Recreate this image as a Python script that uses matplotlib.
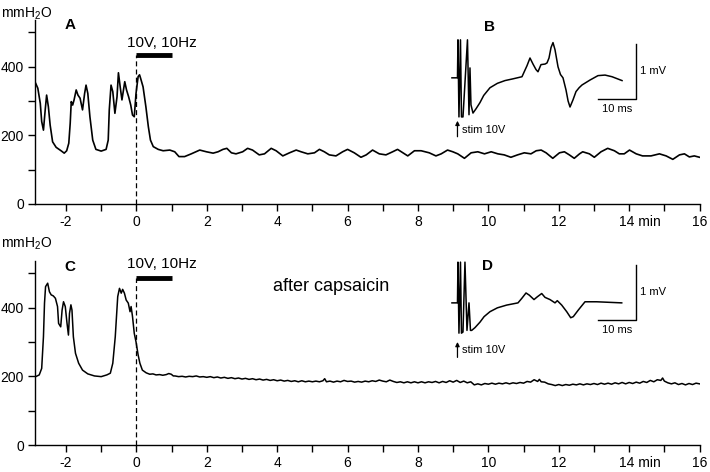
import matplotlib
matplotlib.use('Agg')
import matplotlib.pyplot as plt
import matplotlib.transforms as mtransforms

plt.rcParams['font.family'] = ['Liberation Sans', 'DejaVu Sans']

# Panel A: pressure trace before capsaicin (min, mmH2O)
t_a = [-2.86, -2.80, -2.73, -2.69, -2.64, -2.59, -2.55, -2.50, -2.45, -2.38,
       -2.28, -2.14, -2.05, -1.98, -1.92, -1.88, -1.85, -1.81, -1.77, -1.71,
       -1.66, -1.60, -1.53, -1.47, -1.43, -1.38, -1.32, -1.24, -1.15, -1.00,
       -0.86, -0.80, -0.77, -0.72, -0.67, -0.61, -0.55, -0.51, -0.46, -0.41,
       -0.33, -0.28, -0.22, -0.16, -0.11, -0.06, -0.01, 0.05, 0.09, 0.12,
       0.19, 0.27, 0.34, 0.40, 0.48, 0.62, 0.76, 0.95, 1.09, 1.21,
       1.37, 1.56, 1.80, 1.99, 2.18, 2.32, 2.46, 2.57, 2.70, 2.83,
       3.02, 3.16, 3.30, 3.49, 3.64, 3.83, 3.97, 4.16, 4.35, 4.54,
       4.68, 4.87, 5.06, 5.20, 5.34, 5.48, 5.67, 5.86, 6.00, 6.19,
       6.38, 6.53, 6.71, 6.90, 7.09, 7.28, 7.42, 7.57, 7.71, 7.90,
       8.09, 8.32, 8.51, 8.66, 8.84, 8.99, 9.13, 9.32, 9.51, 9.70,
       9.89, 10.08, 10.27, 10.45, 10.64, 10.83, 11.02, 11.21, 11.36, 11.50,
       11.64, 11.83, 12.02, 12.16, 12.30, 12.44, 12.59, 12.68, 12.87, 13.01,
       13.20, 13.39, 13.58, 13.72, 13.86, 14.01, 14.20, 14.38, 14.62, 14.86,
       15.05, 15.24, 15.43, 15.57, 15.71, 15.85, 16.00]
p_a = [351, 337, 293, 240, 215, 274, 317, 283, 230, 181,
       165, 155, 148, 155, 177, 235, 298, 288, 303, 332,
       317, 308, 274, 322, 346, 322, 254, 186, 159, 154,
       159, 186, 274, 346, 327, 264, 312, 382, 341, 303,
       356, 332, 312, 288, 259, 254, 322, 371, 376, 366,
       341, 283, 225, 186, 167, 159, 155, 157, 152, 138,
       138, 146, 157, 152, 148, 152, 159, 162, 149, 146,
       152, 162, 157, 143, 146, 162, 155, 140, 149, 157,
       152, 146, 149, 159, 152, 143, 140, 152, 159, 149,
       136, 143, 157, 146, 143, 152, 159, 149, 140, 155,
       155, 149, 140, 146, 157, 152, 146, 133, 149, 152,
       146, 152, 146, 143, 136, 143, 149, 146, 155, 157,
       149, 133, 149, 152, 143, 133, 146, 152, 146, 136,
       152, 162, 155, 146, 146, 157, 146, 140, 140, 146,
       140, 130, 143, 146, 137, 140, 136]

# Panel C: pressure trace after capsaicin
t_c = [-2.86, -2.76, -2.69, -2.64, -2.61, -2.58, -2.52, -2.47, -2.42, -2.36,
       -2.30, -2.24, -2.21, -2.15, -2.11, -2.07, -2.02, -1.97, -1.93, -1.90,
       -1.86, -1.83, -1.79, -1.73, -1.64, -1.53, -1.38, -1.19, -1.00, -0.84,
       -0.74, -0.67, -0.60, -0.53, -0.48, -0.43, -0.39, -0.34, -0.29, -0.23,
       -0.18, -0.15, -0.11, -0.06, -0.01, 0.05, 0.10, 0.17, 0.28, 0.38,
       0.47, 0.56, 0.66, 0.75, 0.85, 0.92, 0.99, 1.05,
       1.1, 1.2, 1.3, 1.4, 1.5, 1.6, 1.7, 1.8, 1.9, 2.0,
       2.1, 2.2, 2.3, 2.4, 2.5, 2.6, 2.7, 2.8, 2.9, 3.0,
       3.1, 3.2, 3.3, 3.4, 3.5, 3.6, 3.7, 3.8, 3.9, 4.0,
       4.1, 4.2, 4.3, 4.4, 4.5, 4.6, 4.7, 4.8, 4.9, 5.0,
       5.1, 5.2, 5.3, 5.35, 5.4, 5.5, 5.6, 5.7, 5.8, 5.9, 6.0,
       6.1, 6.2, 6.3, 6.4, 6.5, 6.6, 6.7, 6.8, 6.9, 7.0,
       7.1, 7.2, 7.3, 7.4, 7.5, 7.6, 7.7, 7.8, 7.9, 8.0,
       8.1, 8.2, 8.3, 8.4, 8.5, 8.6, 8.7, 8.8, 8.9, 9.0,
       9.1, 9.2, 9.3, 9.4, 9.5, 9.6, 9.7, 9.8, 9.9, 10.0,
       10.1, 10.2, 10.3, 10.4, 10.5, 10.6, 10.7, 10.8, 10.9, 11.0,
       11.1, 11.2, 11.3, 11.4, 11.45, 11.5, 11.6, 11.7, 11.8, 11.9, 12.0,
       12.1, 12.2, 12.3, 12.4, 12.5, 12.6, 12.7, 12.8, 12.9, 13.0,
       13.1, 13.2, 13.3, 13.4, 13.5, 13.6, 13.7, 13.8, 13.9, 14.0,
       14.1, 14.2, 14.3, 14.4, 14.5, 14.6, 14.7, 14.8, 14.9, 14.95, 15.0,
       15.1, 15.2, 15.3, 15.4, 15.5, 15.6, 15.7, 15.8, 15.9, 16.0]
p_c = [199, 204, 223, 315, 413, 461, 471, 446, 437, 434,
       427, 403, 354, 344, 393, 417, 403, 354, 320, 383,
       408, 393, 315, 267, 238, 218, 207, 201, 199, 204,
       209, 238, 315, 432, 456, 442, 453, 442, 422, 413,
       388, 403, 374, 325, 300, 262, 238, 218, 210, 206,
       207, 204, 205, 203, 205, 208, 206, 201,
       201, 199, 200, 198, 200, 199, 201, 198, 199, 197,
       199, 196, 198, 195, 197, 194, 196, 193, 195, 192,
       194, 191, 193, 190, 192, 189, 191, 188, 190, 187,
       189, 186, 188, 185, 187, 184, 187, 184, 186, 184,
       186, 184, 187, 193, 184, 186, 183, 186, 184, 188, 185,
       186, 183, 185, 183, 186, 184, 187, 185, 189, 186,
       184, 189, 185, 182, 184, 181, 184, 181, 184, 181,
       184, 181, 184, 182, 185, 181, 185, 182, 187, 183,
       188, 182, 186, 181, 184, 175, 178, 175, 179, 177,
       180, 177, 180, 178, 181, 178, 181, 179, 182, 180,
       185, 183, 190, 185, 191, 184, 183, 178, 176, 173, 176,
       173, 176, 174, 177, 175, 178, 175, 178, 176, 179,
       176, 180, 177, 180, 177, 181, 178, 182, 178, 182,
       179, 183, 180, 185, 182, 188, 184, 190, 188, 195, 186,
       181, 178, 181, 176, 179, 175, 179, 176, 180, 178]

# Inset B: evoked potential before capsaicin (ms, mV)
b_ms = [-1.45, 0, 0.13, 0.39, 0.79, 1.05, 1.45, 2.63, 3.03, 3.29,
        3.55, 4.08, 4.9, 5.92, 6.9, 8.55, 10.5, 12.5, 14.5, 16.97,
        18.29, 19.08, 19.87, 20.66, 21.18, 21.97, 23.03, 23.55, 24.08, 24.61,
        25.13, 25.66, 26.45, 27.1, 27.76, 28.55, 29.1, 29.61, 30.39, 31.18,
        32.0, 32.76, 34.87, 36.97, 38.82, 40.66, 43.29]
b_mv = [0, 0, 0.69, -0.71, 0.69, -0.71, -0.71, 0.69, -0.67, 0.18,
        -0.49, -0.64, -0.56, -0.45, -0.32, -0.18, -0.10, -0.05, -0.02, 0.02,
        0.22, 0.36, 0.25, 0.15, 0.11, 0.24, 0.25, 0.27, 0.36, 0.55,
        0.64, 0.51, 0.20, 0.06, 0.0, -0.22, -0.42, -0.53, -0.40, -0.25,
        -0.18, -0.13, -0.04, 0.04, 0.05, 0.02, -0.05]

# Inset D: evoked potential after capsaicin
d_ms = [-1.45, 0, 0.13, 0.39, 0.79, 1.05, 1.45, 1.97, 2.50, 3.03,
        3.42, 3.74, 4.6, 5.92, 7.0, 8.55, 10.5, 12.95, 15.92, 16.9,
        18.03, 18.9, 20.13, 21.0, 22.16, 23.03, 24.34, 25.66, 26.26, 27.42,
        28.74, 29.79, 30.47, 31.79, 33.55, 36.63, 43.21]
d_mv = [0, 0, 0.74, -0.55, 0.74, -0.55, -0.53, 0.74, -0.50, 0.0,
        -0.50, -0.50, -0.45, -0.35, -0.25, -0.16, -0.09, -0.04, 0.0, 0.08,
        0.18, 0.14, 0.06, 0.11, 0.17, 0.10, 0.06, 0.0, 0.04, -0.04,
        -0.16, -0.27, -0.25, -0.13, 0.02, 0.02, 0.0]

x_ticks = list(range(-2, 17))
x_labels = ['' if t % 2 else ('14 min' if t == 14 else str(t)) for t in x_ticks]
y_ticks = [0, 100, 200, 300, 400, 500]
y_labels = ['0', '', '200', '', '400', '']

fig = plt.figure(figsize=(7.1, 4.72), dpi=100)
ax_a = fig.add_axes([0.0493, 0.5678, 0.936, 0.3894])
ax_c = fig.add_axes([0.0493, 0.0572, 0.936, 0.3894])


def style_trace_axes(ax):
    ax.set_xlim(-2.88, 16)
    ax.set_ylim(0, 535)
    for side in ['top', 'right']:
        ax.spines[side].set_visible(False)
    for side in ['left', 'bottom']:
        ax.spines[side].set_linewidth(1.0)
    ax.set_xticks(x_ticks)
    ax.set_xticklabels(x_labels)
    ax.set_yticks(y_ticks)
    ax.set_yticklabels(y_labels)
    ax.tick_params(direction='out', length=5, width=1, labelsize=10, pad=3)
    # push "14 min" so the number sits under its tick
    for lab in ax.get_xticklabels():
        if lab.get_text() == '14 min':
            lab.set_transform(lab.get_transform() + mtransforms.ScaledTranslation(
                0.11, 0, fig.dpi_scale_trans))


style_trace_axes(ax_a)
style_trace_axes(ax_c)

ax_a.plot(t_a, p_a, color='black', lw=1.2)
ax_c.plot(t_c, p_c, color='black', lw=1.1)

# Stimulation bar and onset line
for ax, bar_y, txt_y in [(ax_a, 433, 468), (ax_c, 487, 528)]:
    ax.plot([0, 1], [bar_y, bar_y], color='black', lw=3.5, solid_capstyle='butt')
    ax.plot([0, 0], [0, bar_y], color='black', lw=0.9, ls=(0, (4, 2.5)))
    ax.text(0.72, txt_y, '10V, 10Hz', ha='center', va='center', fontsize=11,
            clip_on=False)

ax_a.text(-1.89, 521, 'A', ha='center', va='center', fontsize=11,
          fontweight='bold', clip_on=False)
ax_c.text(-1.89, 519, 'C', ha='center', va='center', fontsize=11,
          fontweight='bold', clip_on=False)
ax_c.text(5.52, 460, 'after capsaicin', ha='center', va='center', fontsize=13)

fig.text(0.002, 0.970, r'mmH$_\mathregular{2}$O', ha='left', va='center', fontsize=10)
fig.text(0.002, 0.483, r'mmH$_\mathregular{2}$O', ha='left', va='center', fontsize=10)


def draw_inset(rect, ms, mv, letter, ylim, lbl):
    ax = fig.add_axes(rect)
    ax.set_xlim(-4.6, 63.8)
    ax.set_ylim(*ylim)
    ax.axis('off')
    ax.plot(ms, mv, color='black', lw=1.1, solid_joinstyle='round')
    # scale bars 10 ms / 1 mV
    sb_y = lbl['bar_y']
    ax.plot([37, 47, 47], [sb_y, sb_y, sb_y + 1], color='black', lw=1.0)
    ax.text(48, sb_y + 0.5, '1 mV', ha='left', va='center', fontsize=8)
    ax.text(42, sb_y - 0.18, '10 ms', ha='center', va='center', fontsize=8)
    ax.text(lbl['letter_x'], lbl['letter_y'], letter, ha='center',
            va='center', fontsize=11, fontweight='bold')
    ax.annotate('', xy=(0, lbl['arrow_top']), xytext=(0, lbl['arrow_bot']),
                arrowprops=dict(arrowstyle='-|>', color='black', lw=0.9,
                                mutation_scale=6, shrinkA=0, shrinkB=0))
    ax.text(1.2, lbl['stim_y'], 'stim 10V', ha='left', va='center', fontsize=8)
    return ax


draw_inset([0.6197, 0.6928, 0.3662, 0.2648], b_ms, b_mv, 'B', (-1.22, 1.05),
           {'bar_y': -0.38, 'letter_x': 8.55, 'letter_y': 0.93,
            'arrow_top': -0.78, 'arrow_bot': -1.07, 'stim_y': -0.95})
draw_inset([0.6197, 0.2055, 0.3662, 0.2648], d_ms, d_mv, 'D', (-1.31, 0.96),
           {'bar_y': -0.31, 'letter_x': 8.0, 'letter_y': 0.67,
            'arrow_top': -0.71, 'arrow_bot': -0.99, 'stim_y': -0.86})

plt.savefig('out.png', dpi=100)
plt.close()
